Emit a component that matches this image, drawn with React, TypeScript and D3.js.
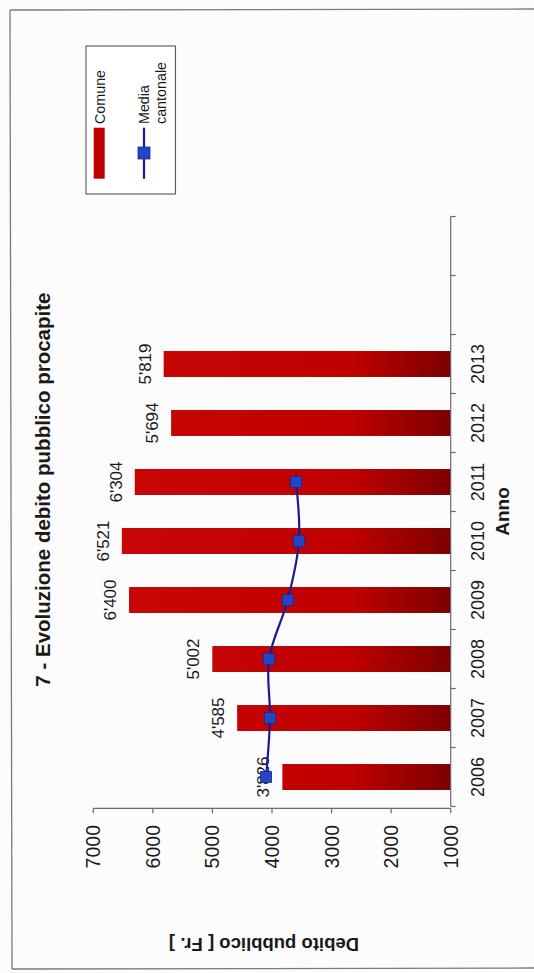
import React, { useEffect } from "react";
import * as d3 from "d3";

const years = ["2006", "2007", "2008", "2009", "2010", "2011", "2012", "2013", "2014", "2015"];
const comuneYears = ["2006", "2007", "2008", "2009", "2010", "2011", "2012", "2013"];
const comuneValues = [3826, 4585, 5002, 6400, 6521, 6304, 5694, 5819];
const comuneLabels = ["3'826", "4'585", "5'002", "6'400", "6'521", "6'304", "5'694", "5'819"];
const mediaYears = ["2006", "2007", "2008", "2009", "2010", "2011"];
const mediaValues = [4100, 4033, 4050, 3736, 3547, 3597];
const valueTicks = [1000, 2000, 3000, 4000, 5000, 6000, 7000];
const yearLabels = ["2006", "2007", "2008", "2009", "2010", "2011", "2012", "2013"];

const W = 534;
const H = 973;
const FONT = "'Liberation Sans', Arial, Helvetica, sans-serif";

export default function App() {
  useEffect(() => {
    document.body.style.margin = "0";
  }, []);

  const x = d3.scaleLinear().domain([1000, 7000]).range([450.7, 93.3]);
  const y = d3
    .scaleBand<string>()
    .domain(years)
    .range([806.5, 216.5])
    .paddingInner(0.56)
    .paddingOuter(0.28);
  const bw = y.bandwidth();
  const step = y.step();
  const cy = (d: string) => (y(d) as number) + bw / 2;

  const boundaries: number[] = [];
  years.forEach((d, i) => {
    if (i === 0) boundaries.push(cy(d) + step / 2);
    boundaries.push(cy(d) - step / 2);
  });

  const mediaPts: [string, number][] = mediaYears.map((d, i) => [d, mediaValues[i]]);
  const line = d3
    .line<[string, number]>()
    .x((d) => x(d[1]))
    .y((d) => cy(d[0]))
    .curve(d3.curveCatmullRom.alpha(0.5));

  const axisY = 808.3;
  const axisX = x(1000);
  const textColor = "#1a1a1a";
  const axisColor = "#6a6a72";

  return (
    <svg
      width={W}
      height={H}
      viewBox={`0 0 ${W} ${H}`}
      style={{ position: "absolute", left: 0, top: 0, background: "#fcfcfd" }}
      fontFamily={FONT}
    >
      <defs>
        <linearGradient
          id="barGrad"
          gradientUnits="userSpaceOnUse"
          x1={x(7000)}
          y1={0}
          x2={axisX}
          y2={0}
        >
          <stop offset="0" stopColor="#c80606" />
          <stop offset="0.72" stopColor="#c00000" />
          <stop offset="1" stopColor="#7c0000" />
        </linearGradient>
      </defs>

      {/* frame */}
      <line x1={10} y1={10} x2={W} y2={9} stroke="#7a7a80" strokeWidth={1.3} />
      <line x1={10} y1={10} x2={12} y2={969} stroke="#7a7a80" strokeWidth={1.3} />
      <line x1={12} y1={969} x2={W} y2={968} stroke="#7a7a80" strokeWidth={1.3} />

      {/* title */}
      <text
        transform={`translate(50,489.6) rotate(-90)`}
        textAnchor="middle"
        fontSize={20.5}
        fontWeight="bold"
        fill={textColor}
      >
        7 - Evoluzione debito pubblico procapite
      </text>

      {/* bars */}
      {comuneYears.map((d, i) => (
        <rect
          key={d}
          x={x(comuneValues[i])}
          y={y(d)}
          width={axisX - x(comuneValues[i])}
          height={bw}
          fill="url(#barGrad)"
        />
      ))}

      {/* data labels */}
      {comuneYears.map((d, i) => (
        <text
          key={"l" + d}
          transform={`translate(${x(comuneValues[i]) - 13},${cy(d)}) rotate(-90)`}
          textAnchor="middle"
          fontSize={17}
          fill={textColor}
        >
          {comuneLabels[i]}
        </text>
      ))}

      {/* media line */}
      <path d={line(mediaPts) || ""} fill="none" stroke="#1a1a96" strokeWidth={2.2} />
      {mediaPts.map((d) => (
        <rect
          key={"m" + d[0]}
          x={x(d[1]) - 5.5}
          y={cy(d[0]) - 5.5}
          width={11}
          height={11}
          fill="#2346c8"
          stroke="#1a2a8a"
          strokeWidth={0.8}
        />
      ))}

      {/* value axis (bottom) */}
      <line x1={x(7000)} y1={axisY} x2={axisX} y2={axisY} stroke={axisColor} strokeWidth={1.2} />
      {valueTicks.map((t) => (
        <g key={"t" + t}>
          <line x1={x(t)} y1={axisY} x2={x(t)} y2={axisY + 5} stroke={axisColor} strokeWidth={1.2} />
          <text
            transform={`translate(${x(t) + 7},825) rotate(-90)`}
            textAnchor="end"
            fontSize={19.5}
            fill={textColor}
          >
            {t}
          </text>
        </g>
      ))}

      {/* category axis (right) */}
      <line
        x1={axisX}
        y1={boundaries[0]}
        x2={axisX}
        y2={boundaries[boundaries.length - 1]}
        stroke={axisColor}
        strokeWidth={1.2}
      />
      {boundaries.map((b, i) => (
        <line key={"b" + i} x1={axisX} y1={b} x2={axisX + 5} y2={b} stroke={axisColor} strokeWidth={1.2} />
      ))}
      {yearLabels.map((d) => (
        <text
          key={"y" + d}
          transform={`translate(484,${cy(d)}) rotate(-90)`}
          textAnchor="middle"
          fontSize={18}
          fill={textColor}
        >
          {d}
        </text>
      ))}

      {/* axis titles */}
      <text
        transform={`translate(509,511.5) rotate(-90)`}
        textAnchor="middle"
        fontSize={19}
        fontWeight="bold"
        fill={textColor}
      >
        Anno
      </text>
      <text
        transform={`translate(264,938) rotate(180)`}
        textAnchor="middle"
        fontSize={18.5}
        fontWeight="bold"
        fill={textColor}
      >
        Debito pubblico [ Fr. ]
      </text>

      {/* legend */}
      <rect x={86} y={46} width={89.5} height={148} fill="#ffffff" stroke="#55555c" strokeWidth={1.1} />
      <rect x={93.7} y={127.7} width={11} height={51} fill="#c00000" />
      <text transform="translate(104.5,124) rotate(-90)" fontSize={14.3} fill={textColor}>
        Comune
      </text>
      <line x1={144} y1={127.7} x2={144} y2={178.8} stroke="#1a1a96" strokeWidth={2.2} />
      <rect x={138} y={147} width={12} height={12} fill="#2346c8" stroke="#1a2a8a" strokeWidth={0.8} />
      <text transform="translate(149,124) rotate(-90)" fontSize={14.3} fill={textColor}>
        Media
      </text>
      <text transform="translate(166,124) rotate(-90)" fontSize={14.3} fill={textColor}>
        cantonale
      </text>
    </svg>
  );
}
